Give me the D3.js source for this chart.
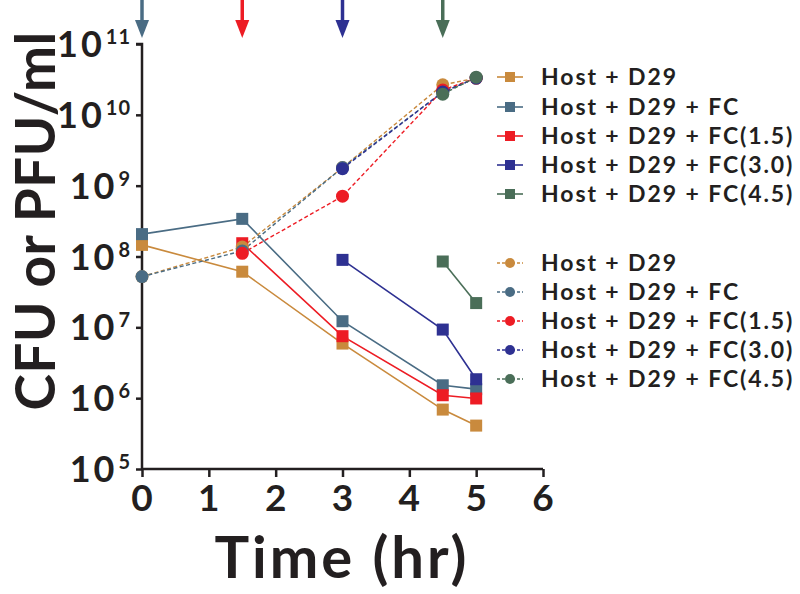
<!DOCTYPE html>
<html><head><meta charset="utf-8">
<script src="https://cdn.jsdelivr.net/npm/d3@7"></script>
<style>
body{margin:0;background:#fff;}
svg{display:block;}
text{font-family:Lato,"Open Sans",sans-serif;font-weight:700;fill:#231f20;}
</style></head>
<body><svg id="c" width="800" height="594"></svg>
<script>
// ---- data ----
const times = [0, 1.5, 3, 4.5, 5];
const seriesNames = ["Host + D29", "Host + D29 + FC", "Host + D29 + FC(1.5)", "Host + D29 + FC(3.0)", "Host + D29 + FC(4.5)"];
const seriesColors = ["#c98a3d", "#4a6c84", "#ed1c24", "#2e3192", "#4a6e58"];
const cfuHost   = [1.46e8, 6.1e7, 5.9e6, 6.9e5, 4.1e5];
const cfuFC     = [2.07e8, 3.4e8, 1.22e7, 1.52e6, 1.34e6];
const cfuFC15   = [null, 1.54e8, 7.5e6, 1.1e6, 9.9e5];
const cfuFC30   = [null, null, 8.96e7, 9.3e6, 1.85e6];
const cfuFC45   = [null, null, null, 8.5e7, 2.2e7];
const pfuHost   = [5.2e7, 1.36e8, 1.8e9, 2.65e10, 3.3e10];
const pfuFC     = [5.2e7, 1.2e8, 1.8e9, 2.1e10, 3.3e10];
const pfuFC15   = [null, 1.11e8, 7.1e8, 2.24e10, 3.3e10];
const pfuFC30   = [null, null, 1.74e9, 2.1e10, 3.3e10];
const pfuFC45   = [null, null, null, 1.96e10, 3.4e10];
const arrowTimes = [0, 1.5, 3, 4.5];
const arrowColorIdx = [1, 2, 3, 4];
const xTicks = [0, 1, 2, 3, 4, 5, 6];
const yTickExp = [5, 6, 7, 8, 9, 10, 11];

const cfu = [cfuHost, cfuFC, cfuFC15, cfuFC30, cfuFC45];
const pfu = [pfuHost, pfuFC, pfuFC15, pfuFC30, pfuFC45];

// ---- scales ----
const svg = d3.select("#c");
const x = d3.scaleLinear().domain([0, 6]).range([142, 543]);
const y = d3.scaleLog().domain([1e5, 1e11]).range([469, 44]);
const ink = "#231f20";

// axes
const gy = svg.append("g").attr("transform", "translate(142,0)")
  .call(d3.axisLeft(y).tickValues(yTickExp.map(e => Math.pow(10, e))).tickSize(6).tickFormat(""));
gy.select(".domain").attr("stroke", ink).attr("stroke-width", 2.5).attr("d", `M-6,${y(1e11)}H0V${y(1e5)}`);
gy.selectAll(".tick line").attr("stroke", ink).attr("stroke-width", 2.5);

const gx = svg.append("g").attr("transform", "translate(0,469)")
  .call(d3.axisBottom(x).tickValues(xTicks).tickSize(8).tickFormat(""));
gx.select(".domain").attr("stroke", ink).attr("stroke-width", 2.5).attr("d", `M${x(0)},0H${x(6)}`);
gx.selectAll(".tick line").attr("stroke", ink).attr("stroke-width", 2.5);

// y tick labels
yTickExp.forEach(e => {
  const t = svg.append("text").attr("x", 131).attr("y", y(Math.pow(10, e)) + 13)
    .attr("text-anchor", "end");
  t.append("tspan").attr("font-size", 36).attr("letter-spacing", 3).text("10");
  t.append("tspan").attr("font-size", 20).attr("dx", 1).attr("dy", -13).attr("letter-spacing", 1).text(e);
});
// x tick labels
xTicks.forEach(v => {
  svg.append("text").attr("x", x(v)).attr("y", 511).attr("text-anchor", "middle")
    .attr("font-size", 37).text(v);
});

// axis titles
svg.append("text").attr("transform", "translate(55,221) rotate(-90)")
  .attr("text-anchor", "middle").attr("font-size", 55).attr("letter-spacing", 0.3).text("CFU or PFU/ml");
svg.append("text").attr("x", 342).attr("y", 578).attr("text-anchor", "middle")
  .attr("font-size", 58).attr("letter-spacing", 3).text("Time (hr)");

// arrows
arrowTimes.forEach((t, i) => {
  const cx = x(t), col = seriesColors[arrowColorIdx[i]];
  svg.append("line").attr("x1", cx).attr("x2", cx).attr("y1", 0).attr("y2", 24)
    .attr("stroke", col).attr("stroke-width", 3.5);
  svg.append("path").attr("d", `M${cx - 7},20L${cx + 7},20L${cx},38Z`).attr("fill", col);
});

// lines
const line = d3.line().defined(d => d.v != null).x(d => x(d.t)).y(d => y(d.v));
const pts = arr => times.map((t, i) => ({ t, v: arr[i] }));

cfu.forEach((arr, i) => {
  svg.append("path").attr("d", line(pts(arr))).attr("fill", "none")
    .attr("stroke", seriesColors[i]).attr("stroke-width", 1.6);
});
pfu.forEach((arr, i) => {
  svg.append("path").attr("d", line(pts(arr))).attr("fill", "none")
    .attr("stroke", seriesColors[i]).attr("stroke-width", 1.4).attr("stroke-dasharray", "4,2.5");
});
// markers
cfu.forEach((arr, i) => {
  svg.selectAll(null).data(pts(arr).filter(d => d.v != null)).join("rect")
    .attr("x", d => x(d.t) - 6).attr("y", d => y(d.v) - 6).attr("width", 12).attr("height", 12)
    .attr("fill", seriesColors[i]);
});
pfu.forEach((arr, i) => {
  svg.selectAll(null).data(pts(arr).filter(d => d.v != null)).join("circle")
    .attr("cx", d => x(d.t)).attr("cy", d => y(d.v)).attr("r", 6.5)
    .attr("fill", seriesColors[i]);
});

// legends
const leg1Y = [77, 107, 136, 165, 194];
const leg2Y = [263, 292, 321, 350, 379];
seriesNames.forEach((name, i) => {
  const col = seriesColors[i];
  let yy = leg1Y[i];
  svg.append("line").attr("x1", 497).attr("x2", 523).attr("y1", yy).attr("y2", yy)
    .attr("stroke", col).attr("stroke-width", 1.6);
  svg.append("rect").attr("x", 505).attr("y", yy - 5).attr("width", 10).attr("height", 10).attr("fill", col);
  svg.append("text").attr("x", 541).attr("y", yy + 8).attr("font-size", 23).attr("letter-spacing", 1.9).text(name);
  yy = leg2Y[i];
  svg.append("line").attr("x1", 497).attr("x2", 523).attr("y1", yy).attr("y2", yy)
    .attr("stroke", col).attr("stroke-width", 1.4).attr("stroke-dasharray", "3,2");
  svg.append("circle").attr("cx", 510).attr("cy", yy).attr("r", 5).attr("fill", col);
  svg.append("text").attr("x", 541).attr("y", yy + 8).attr("font-size", 23).attr("letter-spacing", 1.9).text(name);
});
</script></body></html>
